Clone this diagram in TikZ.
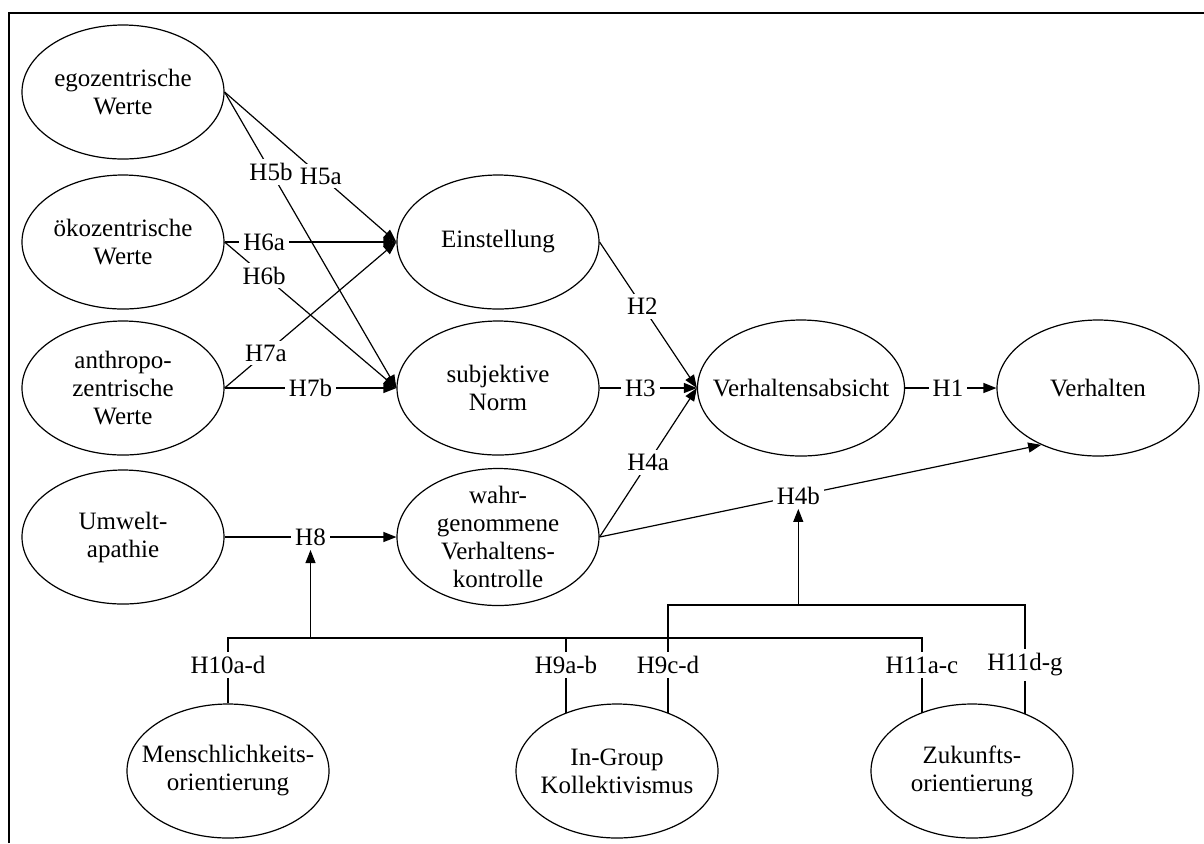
\documentclass[tikz,border=0pt]{standalone}
\usepackage{fontspec}
\setmainfont{Liberation Serif}
\usetikzlibrary{arrows.meta,shapes.geometric,backgrounds}
\tikzset{
  var/.style={ellipse, draw, fill=white, line width=0.6pt, minimum width=101pt, minimum height=67pt, inner sep=-12pt, align=center, font=\fontsize{12.5}{14}\selectfont},
  hyp/.style={fill=white, inner sep=2pt, font=\fontsize{12.5}{14}\selectfont},
  link/.style={line width=0.6pt},
  arr/.style={link, -{Triangle[length=6.5pt,width=5pt]}},
}
\begin{document}
\begin{tikzpicture}[x=0.5pt, y=-0.5pt]
  \useasboundingbox (0,0) rectangle (1204,843);
  \draw[link] (9,843) -- (9,13) -- (1204,13);
  % Werte und Konstrukte
  \node[var] (ego)     at (123,92)  {egozentrische\\Werte};
  \node[var] (oeko)    at (123,242) {ökozentrische\\Werte};
  \node[var] (anthro)  at (123,388) {anthropo-\\zentrische\\Werte};
  \node[var] (apathie) at (123,537) {Umwelt-\\apathie};
  \node[var] (einst)   at (498,242) {Einstellung};
  \node[var] (norm)    at (498,388) {subjektive\\Norm};
  \node[var, minimum height=68.5pt] (pbc) at (498,537) {wahr-\\genommene\\Verhaltens-\\kontrolle};
  \node[var, minimum width=103.5pt, minimum height=68pt] (absicht) at (801,388) {Verhaltensabsicht};
  \node[var, minimum height=68pt] (verh) at (1098,388) {Verhalten};
  % Kulturdimensionen
  \node[var] (mensch)  at (228,771) {Menschlichkeits-\\orientierung};
  \node[var] (ingroup) at (617,771) {In-Group\\Kollektivismus};
  \node[var] (zukunft) at (972,771) {Zukunfts-\\orientierung};
  \coordinate (lowbar) at (0,638);
  \coordinate (topbar) at (0,605);
  \begin{scope}[on background layer]
    \draw[arr] (ego.east) -- node[hyp,pos=.56] (h5a) {H5a} (einst.west);
    \draw[arr] (ego.east) -- node[hyp,pos=.27] (h5b) {H5b} (norm.west);
    \draw[arr] (oeko.east) -- node[hyp,pos=.23] (h6a) {H6a} (einst.west);
    \draw[arr] (oeko.east) -- node[hyp,pos=.23] (h6b) {H6b} (norm.west);
    \draw[arr] (anthro.east) -- node[hyp,pos=.24] (h7a) {H7a} (einst.west);
    \draw[arr] (anthro.east) -- node[hyp,pos=.5] (h7b) {H7b} (norm.west);
    \draw[arr] (apathie) -- node[hyp] (h8) {H8} (pbc);
    \draw[arr] (einst.east) -- node[hyp,pos=.44] (h2) {H2} (absicht.west);
    \draw[arr] (norm.east) -- node[hyp,pos=.42] (h3) {H3} (absicht.west);
    \draw[arr] (pbc.east) -- node[hyp,pos=.5] (h4a) {H4a} (absicht.west);
    \draw[arr] (pbc.east) -- node[hyp,pos=.45] (h4b) {H4b} (verh.225);
    \draw[arr] (absicht) -- node[hyp,pos=.47] (h1) {H1} (verh);
    % Moderatoren
    \node[hyp] (h10)   at (228,665)  {H10a-d};
    \node[hyp] (h9ab)  at (566,665)  {H9a-b};
    \node[hyp] (h9cd)  at (668,665)  {H9c-d};
    \node[hyp] (h11ac) at (922,665)  {H11a-c};
    \node[hyp] (h11dg) at (1025,665) {H11d-g};
    \draw[link] (h10) -- (h10 |- lowbar) -- (h11ac |- lowbar) -- (h11ac);
    \draw[link] (h9ab) -- (h9ab |- lowbar);
    \draw[link] (h9cd) -- (h9cd |- topbar) -- (h11dg |- topbar) -- (h11dg);
    \draw[arr] (h8 |- lowbar) -- (h8);
    \draw[arr] (h4b |- topbar) -- (h4b);
    \draw[link] (h10) -- (mensch);
    \draw[link] (h9ab) -- (h9ab |- ingroup.center);
    \draw[link] (h9cd) -- (h9cd |- ingroup.center);
    \draw[link] (h11ac) -- (h11ac |- zukunft.center);
    \draw[link] (h11dg) -- (h11dg |- zukunft.center);
  \end{scope}
\end{tikzpicture}
\end{document}
